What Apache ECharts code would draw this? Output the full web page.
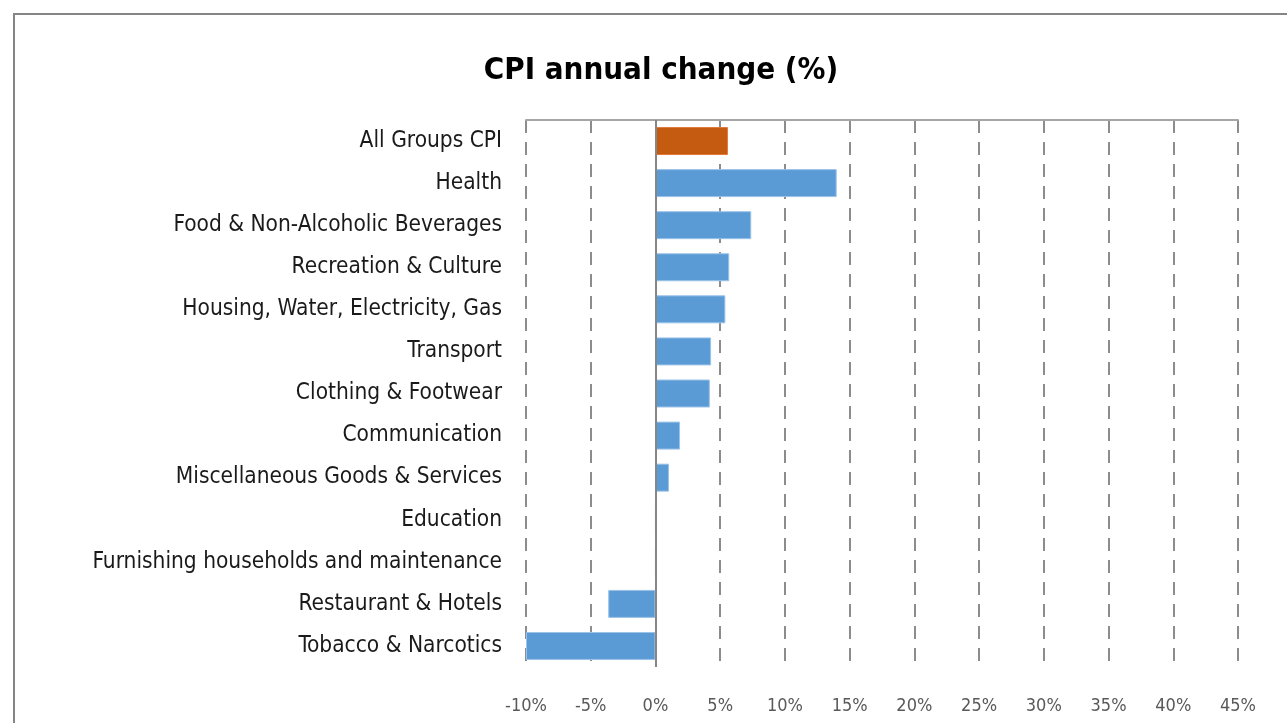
<!DOCTYPE html>
<html>
<head>
<meta charset="utf-8">
<script src="https://cdn.jsdelivr.net/npm/echarts@6/dist/echarts.min.js"></script>
<style>
html,body{margin:0;padding:0;background:#fff;}
#frame{position:absolute;left:13px;top:13px;width:1300px;height:760px;border-left:2px solid #858585;border-top:2px solid #858585;box-sizing:border-box;}
#chart{position:absolute;left:0;top:0;width:1287px;height:723px;}
</style>
</head>
<body>
<div id="frame"></div>
<div id="chart"></div>
<script>
const categories = [
  "All Groups CPI",
  "Health",
  "Food & Non-Alcoholic Beverages",
  "Recreation & Culture",
  "Housing, Water, Electricity, Gas",
  "Transport",
  "Clothing & Footwear",
  "Communication",
  "Miscellaneous Goods & Services",
  "Education",
  "Furnishing households and maintenance",
  "Restaurant & Hotels",
  "Tobacco & Narcotics"
];
const values = [5.6, 14.0, 7.4, 5.7, 5.4, 4.3, 4.2, 1.9, 1.05, 0, 0, -3.65, -10.0];
const highlightCategory = "All Groups CPI";
const xTicks = { min: -10, max: 45, interval: 5 };

const FONT = "'Liberation Sans Narrow', 'DejaVu Sans Condensed', 'Open Sans', sans-serif";
const chart = echarts.init(document.getElementById('chart'), null, { renderer: 'canvas' });
const seriesData = values.map((v, i) => ({
  value: v,
  itemStyle: categories[i] === highlightCategory
    ? { color: '#C55A11', borderColor: '#E07A3A', borderWidth: 1 }
    : { color: '#5B9BD5', borderColor: '#9CC3E8', borderWidth: 1 }
}));

chart.setOption({
  animation: false,
  title: {
    text: 'CPI annual change (%)',
    left: 656, textAlign: 'center', top: 50,
    textStyle: { fontFamily: FONT, fontSize: 31, fontWeight: 'bold', color: '#000' }
  },
  grid: { left: 526, right: 49, top: 120, bottom: 56, containLabel: false },
  xAxis: [{
    type: 'value', min: xTicks.min, max: xTicks.max, interval: xTicks.interval,
    position: 'bottom',
    axisLine: { show: false }, axisTick: { show: false },
    axisLabel: { formatter: '{value}%', color: '#595959', fontFamily: FONT, fontSize: 18, margin: 30 },
    splitLine: { show: true, lineStyle: { color: '#8c8c8c', width: 2, type: [13, 9] } }
  }, {
    type: 'value', min: xTicks.min, max: xTicks.max, interval: xTicks.interval,
    position: 'top',
    axisLine: { show: true, onZero: false, lineStyle: { color: '#a6a6a6', width: 2 } },
    axisTick: { show: false }, axisLabel: { show: false }, splitLine: { show: false }
  }],
  yAxis: {
    type: 'category', data: categories, inverse: true,
    axisLine: { show: false }, axisTick: { show: false },
    axisLabel: { color: '#1a1a1a', fontFamily: FONT, fontSize: 22.5, margin: 24 }
  },
  series: [{
    type: 'bar', data: seriesData, barCategoryGap: '33.5%', xAxisIndex: 0,
    markLine: {
      silent: true, symbol: 'none', label: { show: false },
      lineStyle: { color: '#868686', width: 2, type: 'solid' },
      data: [{ xAxis: 0 }]
    }
  }]
});
</script>
</body>
</html>
